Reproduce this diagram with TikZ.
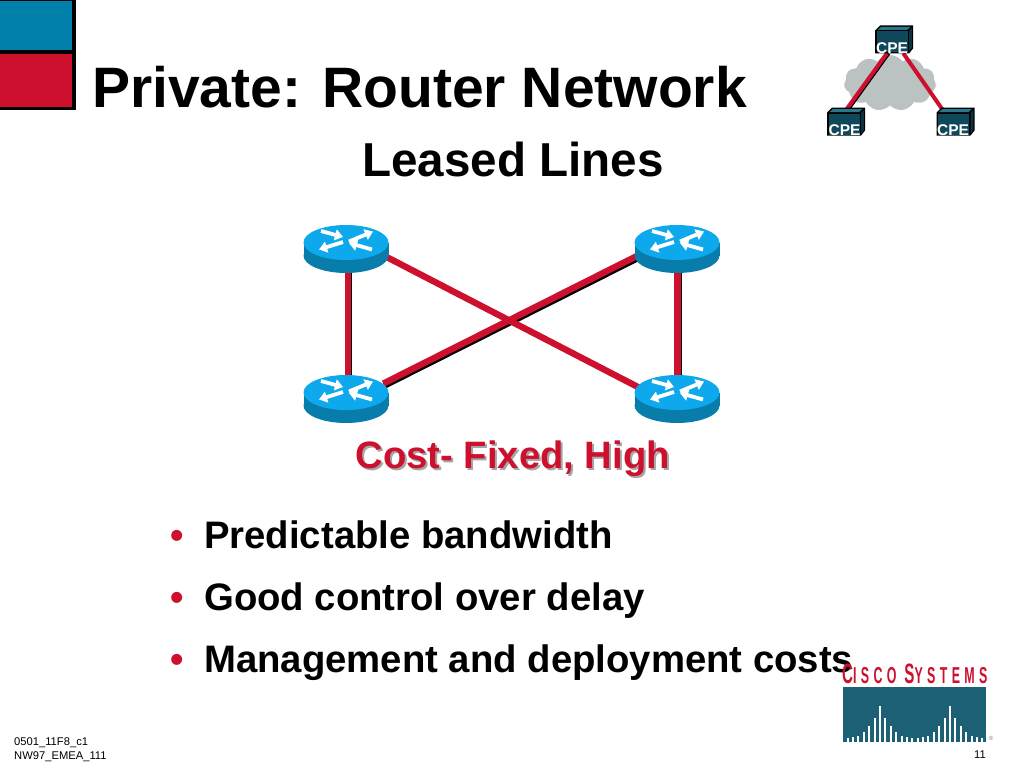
\documentclass[tikz,border=0pt]{standalone}
\usepackage{fontspec}
\setmainfont{Liberation Sans}
\newfontfamily\logofont[FakeStretch=0.54,LetterSpace=19]{Liberation Sans}
\usetikzlibrary{arrows.meta,shapes.symbols}
\definecolor{ciscoblue}{RGB}{0,128,171}
\definecolor{ciscored}{RGB}{205,16,46}
\definecolor{rtrtop}{RGB}{14,168,236}
\definecolor{rtrside}{RGB}{8,125,172}
\definecolor{logoteal}{RGB}{27,96,116}
\definecolor{cpefront}{RGB}{14,72,90}
\definecolor{cpetop}{RGB}{40,120,140}
\definecolor{cloudgrey}{RGB}{186,194,194}
\tikzset{
	title/.style={anchor=base west,inner sep=0pt,font=\fontsize{57}{57}\selectfont\bfseries},
	subtitle/.style={anchor=base west,inner sep=0pt,font=\fontsize{47.6}{47.6}\selectfont\bfseries},
	bullettext/.style={anchor=base west,inner sep=0pt,font=\fontsize{38.3}{38.3}\selectfont\bfseries},
	bulletdot/.style={anchor=base west,inner sep=0pt,text=ciscored,font=\fontsize{38.3}{38.3}\selectfont\bfseries},
	costtext/.style={anchor=base west,inner sep=0pt,font=\fontsize{38.2}{38.2}\selectfont\bfseries},
	smalltext/.style={anchor=base west,inner sep=0pt,font=\fontsize{11.2}{11.2}\selectfont},
	cpelabel/.style={inner sep=0pt,text=white,font=\fontsize{15.5}{15.5}\selectfont\bfseries},
	rtrspot/.style={inner sep=0pt,minimum width=85pt,minimum height=48pt},
	cpespot/.style={inner sep=0pt,minimum width=32pt,minimum height=22pt},
	leased/.style={ciscored,line width=6.4pt,shorten <=-6pt,shorten >=-6pt},
	leasedshade/.style={black,line width=6.4pt,shorten <=-6pt,shorten >=-6pt},
	rtrarrow/.style={white,line width=3.8pt,-{Triangle[length=8pt,width=11pt]}},
	router/.pic={
		\fill[rtrside] (-42.5,-6.5) rectangle (42.5,6.5);
		\fill[rtrside] (0,6.5) ellipse [x radius=42.5pt,y radius=17.5pt];
		\fill[rtrtop] (0,-6.5) ellipse [x radius=42.5pt,y radius=17.5pt];
		\draw[rtrarrow] (3,-7.5) -- (27,-17.5);
		\draw[rtrarrow] (-3,-7) -- (-27,0.5);
		\draw[rtrarrow] (-25,-18) -- (-3,-12);
		\draw[rtrarrow] (26,0.5) -- (3,-6);
	},
	cpebox/.pic={
		\fill[black] (-17,-11.5) -- (-12,-16.5) -- (21,-16.5) -- (21,6.5) -- (17,11.5) -- (-17,11.5) -- cycle;
		\fill[cpetop] (-14.5,-12) -- (-11,-15) -- (18.5,-15) -- (15,-12) -- cycle;
		\fill[cpefront] (-15.5,-10.5) rectangle (15.5,10.5);
		\fill[cpefront!70!black] (17,-11) -- (19.8,-14) -- (19.8,6) -- (17,9.5) -- cycle;
	},
}
\begin{document}
\begin{tikzpicture}[line cap=butt,line join=round,x=1pt,y=-1pt]
	\useasboundingbox (0,0) rectangle (1024,768);
	% corner squares
	\fill[black] (0,0) rectangle (76,110);
	\fill[ciscoblue] (0,1) rectangle (72,50);
	\fill[ciscored] (0,54) rectangle (72,107);
	\node[title] (titleText) at (92,107) {Private: Router Network};
	\node[subtitle] (subtitleText) at (362,176) {Leased Lines};
	% small picture top right
	\node[cloud,cloud puffs=11,cloud puff arc=110,aspect=1.7,fill=cloudgrey,inner sep=0pt,minimum width=92pt,minimum height=56pt] (wan) at (890,83) {};
	\node[cpespot] (cpeTop) at (892,42) {};
	\node[cpespot] (cpeLeft) at (844,124) {};
	\node[cpespot] (cpeRight) at (953.5,124) {};
	\draw[black,line width=4pt] ([xshift=1.5pt]cpeTop.-114) -- ([xshift=1.5pt]cpeLeft.north);
	\draw[ciscored,line width=4pt] (cpeTop.-114) -- (cpeLeft.north);
	\draw[ciscored,line width=4pt] (cpeTop.-45) -- (cpeRight.128);
	\foreach \n in {cpeTop,cpeLeft,cpeRight}
		\pic at (\n) {cpebox};
	\node[cpelabel] (cpeTopText) at (892,48) {CPE};
	\node[cpelabel] (cpeLeftText) at (844.5,130) {CPE};
	\node[cpelabel] (cpeRightText) at (953,130) {CPE};
	% routers and leased lines
	\node[rtrspot] (rtrA) at (346,249) {};
	\node[rtrspot] (rtrB) at (677,249) {};
	\node[rtrspot] (rtrC) at (346,399) {};
	\node[rtrspot] (rtrD) at (677,399) {};
	\draw[leasedshade] ([xshift=3.2pt]rtrA.south) -- ([xshift=3.2pt]rtrC.north);
	\draw[leasedshade] ([xshift=1.8pt]rtrB.south) -- ([xshift=1.8pt]rtrD.north);
	\draw[leasedshade] ([xshift=1pt,yshift=-2pt]rtrC.23) -- ([xshift=1pt,yshift=-2pt]rtrB.191);
	\draw[leased] ([xshift=1.7pt]rtrA.south) -- ([xshift=1.7pt]rtrC.north);
	\draw[leased] ([xshift=.3pt]rtrB.south) -- ([xshift=.3pt]rtrD.north);
	\draw[leased] (rtrC.23) -- (rtrB.191);
	\draw[leased] (rtrA.-12) -- (rtrD.162);
	\foreach \n in {rtrA,rtrB,rtrC,rtrD}
		\pic at (\n) {router};
	\node[costtext,text=black!35] (costShade) at (357.5,470) {Cost- Fixed, High};
	\node[costtext,text=ciscored] (costText) at (355.5,468) {Cost- Fixed, High};
	% bullets
	\node[bulletdot] (dotA) at (170,548) {•};
	\node[bullettext] (lineA) at (204,548) {Predictable bandwidth};
	\node[bulletdot] (dotB) at (170,610) {•};
	\node[bullettext] (lineB) at (204,610) {Good control over delay};
	\node[bulletdot] (dotC) at (170,672) {•};
	\node[bullettext] (lineC) at (204,672) {Management and deployment costs};
	% logo
	\node[anchor=base west,inner sep=0pt,text=ciscored] (logoText) at (842,683) {\logofont\bfseries\fontsize{28}{28}\selectfont C\fontsize{23}{23}\selectfont ISCO \fontsize{28}{28}\selectfont S\fontsize{23}{23}\selectfont YSTEMS};
	\fill[logoteal] (843,687) rectangle (986,742);
	\foreach \i/\h in {0/4,1/5,2/6,3/10,4/16,5/24,6/36,7/24,8/16,9/10,10/6,11/5,12/4,13/4,14/5,15/6,16/10,17/16,18/24,19/36,20/24,21/16,22/10,23/6,24/5,25/4}
		\fill[white] (847.6+\i*5.39-1,741.5) rectangle (847.6+\i*5.39+1,741.5-\h);
	\node[anchor=center,inner sep=0pt,text=black!50,font=\fontsize{6}{6}\selectfont] (logoMark) at (991,738) {®};
	% footer
	\node[smalltext] (footA) at (14,745) {0501\_11F8\_c1};
	\node[smalltext] (footB) at (14,759) {NW97\_EMEA\_111};
	\node[smalltext] (pageNum) at (974,758) {11};
\end{tikzpicture}
\end{document}
